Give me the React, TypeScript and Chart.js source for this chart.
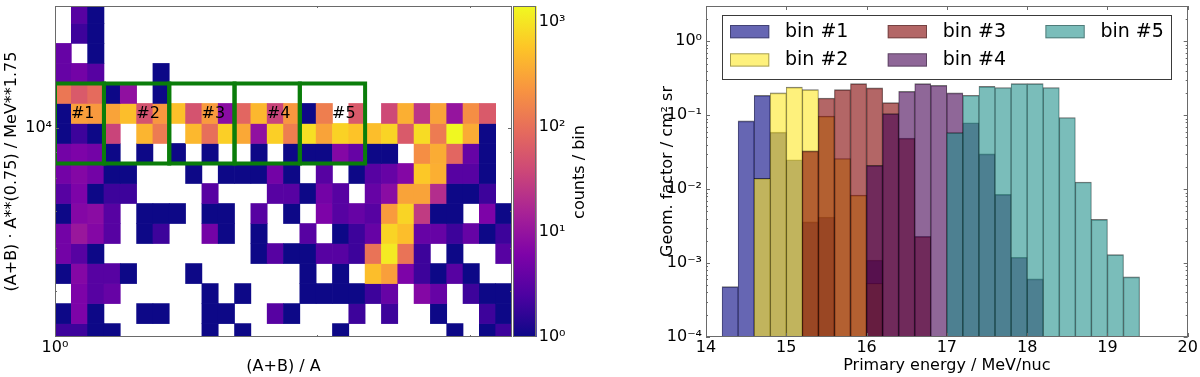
import React, { useEffect, useRef } from 'react';
import { Chart, registerables } from 'chart.js';

Chart.register(...registerables);

const FONT = "'DejaVu Sans', 'Liberation Sans', sans-serif";

// ---------- Left panel: 2-D histogram counts (rows listed top -> bottom, 28 columns) ----------
const heatRow01 = [0, 3, 1, 0, 0, 0, 0, 0, 0, 0, 0, 0, 0, 0, 0, 0, 0, 0, 0, 0, 0, 0, 0, 0, 0, 0, 0, 0];
const heatRow02 = [0, 2, 1, 0, 0, 0, 0, 0, 0, 0, 0, 0, 0, 0, 0, 0, 0, 0, 0, 0, 0, 0, 0, 0, 0, 0, 0, 0];
const heatRow03 = [4, 0, 1, 0, 0, 0, 0, 0, 0, 0, 0, 0, 0, 0, 0, 0, 0, 0, 0, 0, 0, 0, 0, 0, 0, 0, 0, 0];
const heatRow04 = [4, 5, 3, 0, 0, 0, 1, 0, 0, 0, 0, 0, 0, 0, 0, 0, 0, 0, 0, 0, 0, 0, 0, 0, 0, 0, 0, 0];
const heatRow05 = [120, 60, 90, 1, 9, 0, 1, 0, 0, 0, 0, 0, 0, 0, 0, 0, 0, 0, 0, 0, 0, 0, 0, 0, 0, 0, 0, 0];
const heatRow06 = [1, 280, 250, 300, 500, 50, 240, 520, 50, 260, 8, 80, 450, 35, 240, 1, 140, 0, 60, 0, 40, 380, 25, 300, 10, 200, 60, 0];
const heatRow07 = [1, 2, 1, 35, 0, 420, 130, 0, 450, 100, 680, 330, 9, 680, 140, 900, 300, 720, 550, 500, 750, 60, 850, 130, 1400, 350, 1, 0];
const heatRow08 = [5, 6, 5, 1, 0, 1, 0, 1, 0, 1, 0, 0, 1, 0, 1, 1, 1, 7, 4, 1, 1, 0, 200, 360, 80, 4, 1, 0];
const heatRow09 = [5, 7, 5, 1, 1, 0, 0, 0, 1, 0, 1, 1, 1, 5, 1, 0, 3, 0, 1, 3, 4, 7, 600, 380, 3, 3, 1, 0];
const heatRow10 = [3, 6, 1, 2, 2, 0, 0, 0, 0, 3, 0, 0, 0, 3, 3, 1, 5, 3, 0, 4, 8, 300, 300, 20, 1, 1, 2, 0];
const heatRow11 = [1, 7, 8, 3, 0, 1, 1, 1, 0, 1, 1, 0, 3, 0, 1, 0, 6, 3, 4, 3, 260, 750, 28, 1, 1, 0, 6, 1];
const heatRow12 = [5, 11, 7, 3, 0, 1, 2, 0, 0, 5, 1, 0, 1, 0, 0, 3, 0, 1, 2, 4, 750, 500, 4, 4, 2, 4, 1, 2];
const heatRow13 = [5, 3, 1, 0, 0, 0, 0, 0, 0, 0, 0, 0, 1, 3, 1, 1, 3, 3, 2, 110, 1100, 110, 2, 0, 1, 0, 0, 3];
const heatRow14 = [1, 7, 3, 3, 1, 0, 0, 0, 1, 0, 0, 0, 0, 0, 0, 1, 0, 1, 0, 500, 280, 6, 2, 1, 3, 1, 0, 0];
const heatRow15 = [0, 6, 3, 4, 0, 0, 0, 0, 0, 1, 0, 1, 0, 0, 0, 1, 1, 1, 1, 2, 4, 0, 7, 4, 0, 2, 1, 1];
const heatRow16 = [1, 6, 1, 0, 0, 1, 1, 0, 0, 1, 1, 0, 0, 3, 1, 0, 0, 0, 2, 0, 2, 0, 0, 1, 0, 0, 2, 1];
const heatRow17 = [2, 2, 1, 1, 0, 0, 0, 0, 0, 1, 0, 1, 0, 0, 0, 0, 0, 1, 0, 0, 0, 0, 0, 0, 1, 0, 1, 2];
const heatRows = [heatRow01, heatRow02, heatRow03, heatRow04, heatRow05, heatRow06, heatRow07, heatRow08, heatRow09,
  heatRow10, heatRow11, heatRow12, heatRow13, heatRow14, heatRow15, heatRow16, heatRow17];
const heatColumns = 28;
const heatYRange = [0.33, 16.87];

// selection boxes (column edges, row span) and their labels
const boxColumnEdges = [0, 3, 7, 11, 15, 19];
const boxRowSpan = [9, 13];
const boxLabels = ['#1', '#2', '#3', '#4', '#5'];
const boxLabelX = [1.7, 5.7, 9.7, 13.7, 17.7];
const boxLabelY = 11.5;

// axis ticks of the left panel
const heatXTickValues = [0];
const heatXTickLabels = ['10⁰'];
const heatYTickValues = [10.78];
const heatYTickLabels = ['10⁴'];
const heatXMinorTicks = [16.03, 25.41];
const heatYMinorTicks = [9.59, 8.26, 6.61, 4.79, 2.63];

// colour bar
const colorbarMax = 1420;
const colorbarTickValues = [1, 10, 100, 1000];
const colorbarTickLabels = ['10⁰', '10¹', '10²', '10³'];

// plasma colormap stops
const plasmaStops = [
  [13, 8, 135], [76, 2, 161], [126, 3, 168], [168, 34, 150], [204, 71, 120],
  [230, 108, 92], [248, 149, 64], [253, 197, 39], [240, 249, 33],
];

// ---------- Right panel: geometric factor histograms ----------
const energyBinCenters = [14.3, 14.5, 14.7, 14.9, 15.1, 15.3, 15.5, 15.7, 15.9, 16.1, 16.3, 16.5, 16.7,
  16.9, 17.1, 17.3, 17.5, 17.7, 17.9, 18.1, 18.3, 18.5, 18.7, 18.9, 19.1, 19.3];
const geomBin1 = [4.8e-4, 0.084, 0.186, 0.059, 0.025, 0.0036, 0.0042, null, null, 0.0011, null, null, null,
  null, null, null, null, null, null, null, null, null, null, null, null, null];
const geomBin2 = [null, null, 0.014, 0.2, 0.24, 0.222, 0.097, 0.026, 0.0083, 5.3e-4, null, null, null,
  null, null, null, null, null, null, null, null, null, null, null, null, null];
const geomBin3 = [null, null, null, null, null, 0.033, 0.171, 0.222, 0.268, 0.234, 0.148, 0.049, 0.0023,
  null, null, null, null, null, null, null, null, null, null, null, null, null];
const geomBin4 = [null, null, null, null, null, null, null, null, null, 0.021, 0.105, 0.211, 0.268,
  0.254, 0.2, 0.079, 0.03, 0.0085, 0.0012, 6.1e-4, null, null, null, null, null, null];
const geomBin5 = [null, null, null, null, null, null, null, null, null, null, null, null, null,
  null, 0.058, 0.186, 0.246, 0.237, 0.268, 0.268, 0.237, 0.093, 0.0125, 0.0039, 0.0013, 6.5e-4];
const geomSeries = [geomBin1, geomBin2, geomBin3, geomBin4, geomBin5];
const geomLabels = ['bin #1', 'bin #2', 'bin #3', 'bin #4', 'bin #5'];
const geomColors = ['rgba(0,0,128,0.6)', 'rgba(253,231,37,0.6)', 'rgba(128,0,0,0.6)', 'rgba(68,1,84,0.6)', 'rgba(33,145,140,0.6)'];
const geomXTicks = [14, 15, 16, 17, 18, 19, 20];
const geomYTicks = [1e-4, 1e-3, 1e-2, 1e-1, 1];
const geomYTickLabels = ['10⁻⁴', '10⁻³', '10⁻²', '10⁻¹', '10⁰'];

const FRAME = '#6a6a6a';

function plasma(t: number): string {
  const n = plasmaStops.length;
  const tt = Math.max(0, Math.min(1, t));
  const s = tt * (n - 1);
  const i = Math.min(Math.floor(s), n - 2);
  const f = s - i;
  const a = plasmaStops[i];
  const b = plasmaStops[i + 1];
  const c = [0, 1, 2].map((k) => Math.round(a[k] + (b[k] - a[k]) * f));
  return `rgb(${c[0]},${c[1]},${c[2]})`;
}
const countColor = (c: number) => plasma(Math.log10(c) / Math.log10(colorbarMax));

// fixed axis thickness, and no extra label overhang padding
const fitWidth = (w: number) => (s: any) => {
  s.width = w;
  s.paddingTop = 0; s.paddingBottom = 0; s.paddingLeft = 0; s.paddingRight = 0;
};
const fitHeight = (h: number) => (s: any) => {
  s.height = h;
  s.paddingTop = 0; s.paddingBottom = 0; s.paddingLeft = 0; s.paddingRight = 0;
};

const framePlugin = {
  id: 'frameTicks',
  afterDatasetsDraw(chart: any, _args: any, opts: any) {
    const { ctx, chartArea: a, scales } = chart;
    ctx.save();
    ctx.strokeStyle = FRAME;
    ctx.lineWidth = 1;
    ctx.beginPath();
    (opts.x || []).forEach((spec: any) => {
      spec.values.forEach((v: number) => {
        const p = Math.round(scales.x.getPixelForValue(v)) + 0.5;
        ctx.moveTo(p, a.top); ctx.lineTo(p, a.top + spec.len);
        ctx.moveTo(p, a.bottom); ctx.lineTo(p, a.bottom - spec.len);
      });
    });
    (opts.y || []).forEach((spec: any) => {
      spec.values.forEach((v: number) => {
        const p = Math.round(scales.y.getPixelForValue(v)) + 0.5;
        ctx.moveTo(a.left, p); ctx.lineTo(a.left + spec.len, p);
        ctx.moveTo(a.right, p); ctx.lineTo(a.right - spec.len, p);
      });
    });
    ctx.stroke();
    ctx.strokeRect(Math.round(a.left) + 0.5, Math.round(a.top) + 0.5,
      Math.round(a.right - a.left) - 1, Math.round(a.bottom - a.top) - 1);
    ctx.restore();
  },
};

const boxLabelPlugin = {
  id: 'boxLabels',
  afterDatasetsDraw(chart: any) {
    const { ctx, scales } = chart;
    ctx.save();
    ctx.font = `16px ${FONT}`;
    ctx.fillStyle = '#000';
    ctx.textAlign = 'center';
    ctx.textBaseline = 'middle';
    boxLabels.forEach((t, i) => {
      ctx.fillText(t, scales.x.getPixelForValue(boxLabelX[i]), scales.y.getPixelForValue(boxLabelY));
    });
    ctx.restore();
  },
};

const cbarTitlePlugin = {
  id: 'cbarTitle',
  afterDraw(chart: any) {
    const { ctx, chartArea: a } = chart;
    ctx.save();
    ctx.font = `16px ${FONT}`;
    ctx.fillStyle = '#000';
    ctx.textAlign = 'center';
    ctx.textBaseline = 'middle';
    ctx.translate(a.right + 43, (a.top + a.bottom) / 2 + 0.5);
    ctx.rotate(-Math.PI / 2);
    ctx.fillText('counts / bin', 0, 0);
    ctx.restore();
  },
};

const geomLegendPlugin = {
  id: 'geomLegend',
  afterDraw(chart: any) {
    const { ctx, chartArea: a } = chart;
    const x0 = a.left + 16.3;
    const y0 = a.top + 9;
    const w = a.right - 16 - x0;
    const h = 64;
    ctx.save();
    ctx.fillStyle = '#fff';
    ctx.fillRect(x0, y0, w, h);
    ctx.strokeStyle = '#3a3a3a';
    ctx.lineWidth = 1;
    ctx.strokeRect(Math.round(x0) + 0.5, Math.round(y0) + 0.5, Math.round(w), Math.round(h));
    chart.data.datasets.forEach((ds: any, i: number) => {
      const col = Math.floor(i / 2);
      const row = i % 2;
      const px = x0 + 7.7 + col * 157.7;
      const py = y0 + 10 + row * 28.3;
      ctx.fillStyle = ds.backgroundColor;
      ctx.fillRect(px, py, 39.3, 13.3);
      ctx.strokeStyle = 'rgba(0,0,0,0.35)';
      ctx.strokeRect(px + 0.5, py + 0.5, 38.3, 12.3);
      ctx.fillStyle = '#000';
      ctx.font = `19px ${FONT}`;
      ctx.textBaseline = 'middle';
      ctx.textAlign = 'left';
      ctx.fillText(ds.label, px + 55, py + 7);
    });
    ctx.restore();
  },
};

const tickFont = { family: FONT, size: 16 };
const noGrid = { display: false, drawTicks: false, offset: false };
const baseOptions = {
  animation: false,
  responsive: false,
  maintainAspectRatio: false,
  devicePixelRatio: 1,
  events: [],
};

function heatConfig(): any {
  const nRows = heatRows.length;
  const datasets: any[] = heatRows.map((row, r) => {
    const k = nRows - 1 - r;
    const data: any[] = [];
    const colors: string[] = [];
    row.forEach((c, i) => {
      if (c > 0) {
        data.push({ x: i + 0.5, y: [k, k + 1] });
        colors.push(countColor(c));
      }
    });
    return {
      type: 'bar', data, backgroundColor: colors, borderWidth: 0, grouped: false,
      barPercentage: 1, categoryPercentage: 1, clip: 0, order: 1,
    };
  });
  for (let b = 0; b < boxColumnEdges.length - 1; b++) {
    const x0 = boxColumnEdges[b];
    const x1 = boxColumnEdges[b + 1];
    const [y0, y1] = boxRowSpan;
    datasets.push({
      type: 'line',
      data: [{ x: x0, y: y0 }, { x: x1, y: y0 }, { x: x1, y: y1 }, { x: x0, y: y1 }, { x: x0, y: y0 }, { x: x1, y: y0 }],
      borderColor: '#0a7d0a', borderWidth: 4, pointRadius: 0, fill: false, tension: 0,
      borderJoinStyle: 'miter', order: 0,
    });
  }
  return {
    type: 'bar',
    data: { datasets },
    plugins: [framePlugin, boxLabelPlugin],
    options: {
      ...baseOptions,
      layout: { padding: { top: 6, right: 8, left: 0, bottom: 0 } },
      plugins: {
        legend: { display: false },
        tooltip: { enabled: false },
        frameTicks: {
          x: [{ values: heatXMinorTicks, len: 2 }],
          y: [{ values: heatYTickValues, len: 4 }, { values: heatYMinorTicks, len: 2 }],
        },
      },
      scales: {
        x: {
          type: 'linear', min: 0, max: heatColumns, offset: false,
          grid: noGrid, border: { display: false },
          afterBuildTicks: (s: any) => { s.ticks = heatXTickValues.map((v) => ({ value: v })); },
          ticks: { callback: (_v: any, i: number) => heatXTickLabels[i], padding: 1, font: tickFont, color: '#000', autoSkip: false, maxRotation: 0 },
          title: { display: true, text: '(A+B) / A', font: tickFont, color: '#000', padding: { top: 0, bottom: 1 } },
          afterFit: fitHeight(40),
        },
        y: {
          type: 'linear', min: heatYRange[0], max: heatYRange[1],
          grid: noGrid, border: { display: false },
          afterBuildTicks: (s: any) => { s.ticks = heatYTickValues.map((v) => ({ value: v })); },
          ticks: { callback: (_v: any, i: number) => heatYTickLabels[i], padding: 3, font: tickFont, color: '#000', autoSkip: false },
          title: { display: true, text: '(A+B) · A**(0.75) / MeV**1.75', font: tickFont, color: '#000', padding: { top: 2, bottom: 0 } },
          afterFit: fitWidth(55),
        },
      },
    },
  };
}

function cbarConfig(): any {
  return {
    type: 'bar',
    data: {
      labels: [''],
      datasets: [{
        data: [[1, colorbarMax]],
        backgroundColor: (c: any) => {
          const { chart } = c;
          const a = chart.chartArea;
          if (!a) return plasma(0.5);
          const g = chart.ctx.createLinearGradient(0, a.bottom, 0, a.top);
          plasmaStops.forEach((s, i) => g.addColorStop(i / (plasmaStops.length - 1), `rgb(${s[0]},${s[1]},${s[2]})`));
          return g;
        },
        borderWidth: 0, barPercentage: 1, categoryPercentage: 1,
      }],
    },
    plugins: [framePlugin, cbarTitlePlugin],
    options: {
      ...baseOptions,
      layout: { padding: { top: 6, bottom: 40, left: 8.3, right: 0 } },
      plugins: { legend: { display: false }, tooltip: { enabled: false }, frameTicks: {} },
      scales: {
        x: { display: false },
        y: {
          type: 'logarithmic', position: 'right', min: 1, max: colorbarMax,
          grid: noGrid, border: { display: false },
          afterBuildTicks: (s: any) => { s.ticks = colorbarTickValues.map((v) => ({ value: v })); },
          ticks: { callback: (_v: any, i: number) => colorbarTickLabels[i], padding: 2, font: tickFont, color: '#000', autoSkip: false },
          afterFit: fitWidth(63.3),
        },
      },
    },
  };
}

function geomConfig(): any {
  const minor: number[] = [];
  for (let e = -4; e <= 0; e++) {
    for (let m = 2; m <= 9; m++) {
      const v = m * Math.pow(10, e);
      if (v < 3) minor.push(v);
    }
  }
  const datasets = geomSeries.map((vals, j) => ({
    label: geomLabels[j],
    data: energyBinCenters
      .map((x, i) => (vals[i] == null ? null : { x, y: vals[i] }))
      .filter((p) => p !== null),
    backgroundColor: geomColors[j],
    borderColor: 'rgba(0,0,0,0.55)',
    borderWidth: { top: 1, left: 0.5, right: 0.5, bottom: 0 },
    grouped: false, barPercentage: 1, categoryPercentage: 1,
    order: geomSeries.length - j,
  }));
  return {
    type: 'bar',
    data: { datasets },
    plugins: [framePlugin, geomLegendPlugin],
    options: {
      ...baseOptions,
      layout: { padding: { top: 6, right: 12.3, left: 0, bottom: 0 } },
      plugins: {
        legend: { display: false },
        tooltip: { enabled: false },
        frameTicks: {
          x: [{ values: geomXTicks, len: 4 }],
          y: [{ values: geomYTicks, len: 4 }, { values: minor, len: 2 }],
        },
      },
      scales: {
        x: {
          type: 'linear', min: 14, max: 20, offset: false,
          grid: noGrid, border: { display: false },
          afterBuildTicks: (s: any) => { s.ticks = geomXTicks.map((v) => ({ value: v })); },
          ticks: { callback: (v: any) => String(v), padding: 1, font: tickFont, color: '#000', autoSkip: false, maxRotation: 0 },
          title: { display: true, text: 'Primary energy / MeV/nuc', font: tickFont, color: '#000', padding: { top: 0, bottom: 1.5 } },
          afterFit: fitHeight(40),
        },
        y: {
          type: 'logarithmic', min: 1e-4, max: 3,
          grid: noGrid, border: { display: false },
          afterBuildTicks: (s: any) => { s.ticks = geomYTicks.map((v) => ({ value: v })); },
          ticks: { callback: (_v: any, i: number) => geomYTickLabels[i], padding: 4, font: tickFont, color: '#000', autoSkip: false },
          title: { display: true, text: 'Geom. factor / cm² sr', font: tickFont, color: '#000', padding: { top: 58.5, bottom: 0 } },
          afterFit: fitWidth(106),
        },
      },
    },
  };
}

export default function App() {
  const heatRef = useRef<HTMLCanvasElement>(null);
  const cbarRef = useRef<HTMLCanvasElement>(null);
  const geomRef = useRef<HTMLCanvasElement>(null);

  useEffect(() => {
    const charts: Chart[] = [];
    if (heatRef.current) charts.push(new Chart(heatRef.current, heatConfig()));
    if (cbarRef.current) charts.push(new Chart(cbarRef.current, cbarConfig()));
    if (geomRef.current) charts.push(new Chart(geomRef.current, geomConfig()));
    return () => charts.forEach((c) => c.destroy());
  }, []);

  const abs = (left: number, width: number): React.CSSProperties => ({
    position: 'absolute', left, top: 0, width, height: 377, display: 'block',
  });

  return (
    <div style={{ position: 'absolute', left: 0, top: 0, width: 1200, height: 377, background: '#fff', overflow: 'hidden' }}>
      <canvas ref={heatRef} width={520} height={377} style={abs(0, 520)} />
      <canvas ref={cbarRef} width={95} height={377} style={abs(505, 95)} />
      <canvas ref={geomRef} width={600} height={377} style={abs(600, 600)} />
    </div>
  );
}
